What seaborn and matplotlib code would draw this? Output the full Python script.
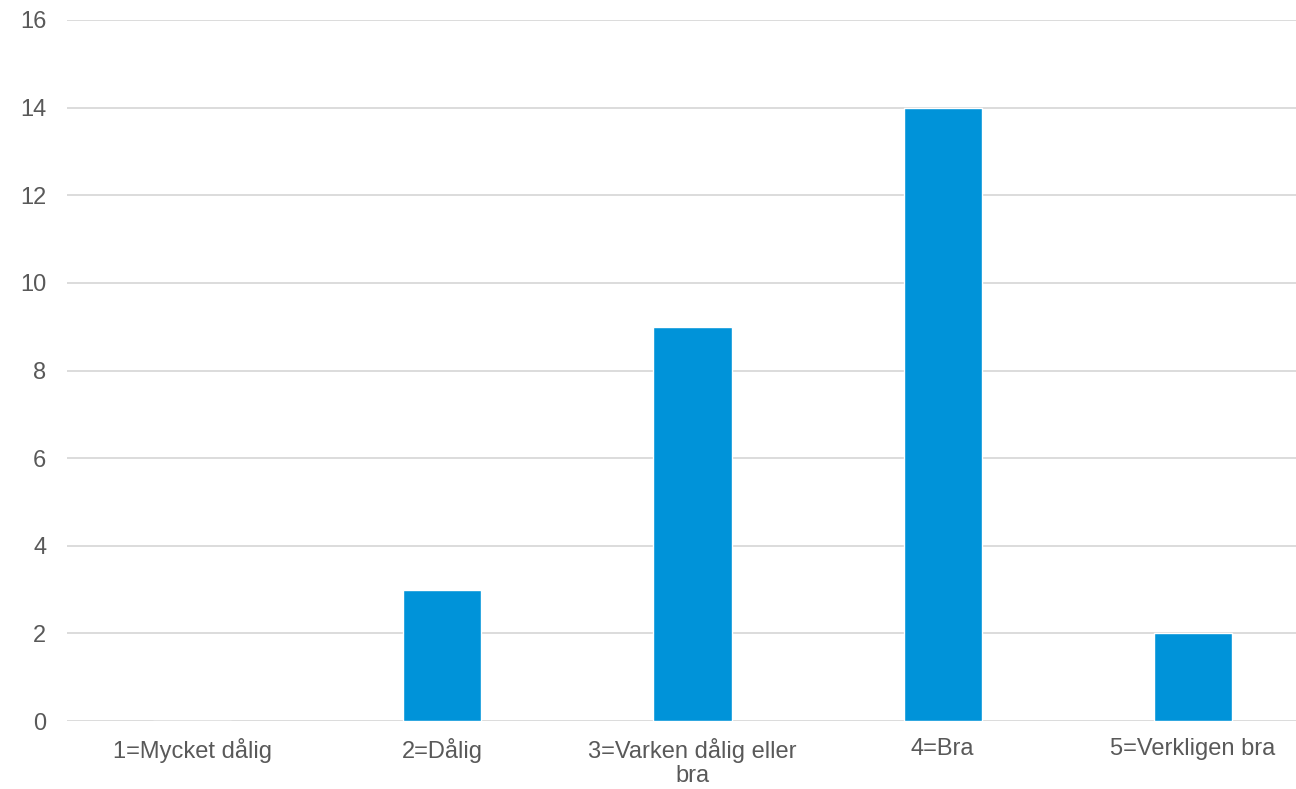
import matplotlib
matplotlib.use("Agg")
import matplotlib.pyplot as plt
import seaborn as sns
import pandas as pd

categories = ["1=Mycket dålig", "2=Dålig", "3=Varken dålig eller\nbra", "4=Bra", "5=Verkligen bra"]
values = [0, 3, 9, 14, 2]
yticks = [0, 2, 4, 6, 8, 10, 12, 14, 16]

sns.set_theme(style="white")
plt.rcParams['font.family'] = ['Liberation Sans', 'DejaVu Sans']

df = pd.DataFrame({"cat": categories, "val": values})

fig = plt.figure(figsize=(12.96, 7.89), dpi=100)
ax = fig.add_axes([67/1296, (789-721)/789, 1251/1296, (721-20)/789])
sns.barplot(data=df, x="cat", y="val", color="#0093D9", saturation=1, width=0.312, ax=ax)

ax.set_ylim(0, 16)
ax.set_yticks(yticks)
ax.set_xlim(-0.5, len(categories) - 0.5)
ax.yaxis.grid(True, color="#D9D9D9", linewidth=1.3)
ax.set_axisbelow(True)
for s in ax.spines.values():
    s.set_visible(False)
ax.set_xlabel("")
ax.set_ylabel("")
ax.tick_params(axis="both", length=0, labelsize=17, labelcolor="#595959")
ax.tick_params(axis="y", pad=15)
ax.tick_params(axis="x", pad=12)
for lbl in ax.get_xticklabels():
    lbl.set_linespacing(1.15)

fig.savefig("out.png", dpi=100)
